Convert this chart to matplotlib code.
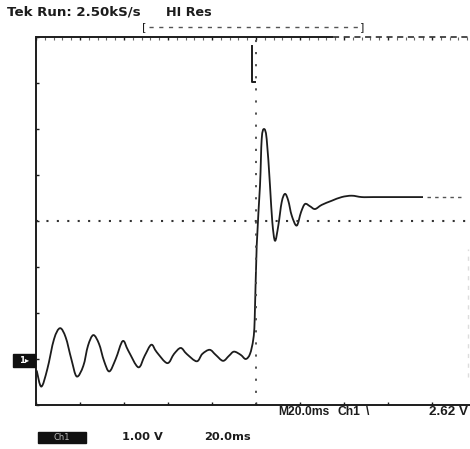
import numpy as np
import matplotlib
matplotlib.use("Agg")
import matplotlib.pyplot as plt
from matplotlib.patches import Rectangle, PathPatch
from matplotlib.path import Path

# Acquired trace: time in ms from the left edge of the screen, volts above ground
time_ms = [0.32, 2.41, 5.14, 8.18, 10.91, 13.50, 16.05, 18.50, 21.50, 23.64,
           26.05, 28.64, 30.91, 33.32, 36.23, 39.41, 41.95, 46.50, 49.41, 52.41,
           54.86, 59.68, 62.73, 65.77, 68.50, 73.05, 75.59, 78.95, 81.68, 85.00,
           87.73, 90.00, 93.05, 95.32, 97.27, 98.77, 99.41, 100.32, 101.82, 102.59,
           103.64, 104.86, 106.36, 107.41, 108.64, 110.14, 111.68, 113.18, 114.68, 116.23,
           118.50, 120.45, 122.27, 124.55, 126.82, 129.86, 134.41, 138.95, 143.50, 148.05,
           153.32, 175.91]
volts = [-0.25, -0.60, -0.22, 0.43, 0.67, 0.47, 0.00, -0.38, -0.15, 0.29,
         0.52, 0.33, -0.04, -0.27, 0.00, 0.39, 0.18, -0.18, 0.07, 0.31,
         0.15, -0.09, 0.11, 0.24, 0.11, -0.05, 0.11, 0.20, 0.09, -0.04,
         0.07, 0.16, 0.09, 0.00, 0.11, 0.43, 0.87, 2.46, 3.77, 4.78,
         5.00, 4.78, 3.77, 2.98, 2.57, 2.90, 3.41, 3.59, 3.44, 3.12,
         2.90, 3.19, 3.37, 3.32, 3.26, 3.35, 3.44, 3.52, 3.55, 3.52,
         3.52, 3.52]

# Screen settings
x_div_ms = 20.0          # horizontal scale, ms per division
y_div_v = 1.00           # vertical scale, V per division
n_xdiv, n_ydiv = 10, 8
ground_div = 1           # ground reference, divisions above the bottom edge
trigger_ms = 98.2        # trigger position marker

header = "Tek Run: 2.50kS/s"
mode = "HI Res"
status = ["M20.0ms", "Ch1", "\\", "2.62 V"]
footer = ["Ch1", "1.00 V", "20.0ms"]


def smooth_path(xs, ys):
    """Catmull-Rom curve through the samples, expressed as cubic Bezier pieces."""
    pts = np.column_stack([xs, ys]).astype(float)
    ext = np.vstack([pts[0], pts, pts[-1]])
    verts = [pts[0]]
    codes = [Path.MOVETO]
    for i in range(1, len(ext) - 2):
        p0, p1, p2, p3 = ext[i - 1], ext[i], ext[i + 1], ext[i + 2]
        verts += [p1 + (p2 - p0) / 6, p2 - (p3 - p1) / 6, p2]
        codes += [Path.CURVE4] * 3
    return Path(verts, codes)


W, H = 470, 449
fig = plt.figure(figsize=(W / 100, H / 100), dpi=100)
fig.patch.set_facecolor("white")

ink = "#1c1c1c"
ax = fig.add_axes([36 / W, (H - 405) / H, 440 / W, 368 / H])
ax.set_xlim(0, n_xdiv * x_div_ms)
ax.set_ylim(-ground_div * y_div_v, (n_ydiv - ground_div) * y_div_v)
ax.set_facecolor("white")

for side in ("right", "top"):
    ax.spines[side].set_visible(False)
for side in ("left", "bottom"):
    ax.spines[side].set_color(ink)
    ax.spines[side].set_linewidth(1.4)

ax.set_xticks(np.arange(0, n_xdiv * x_div_ms + 1, x_div_ms))
ax.set_yticks(np.arange(-1, 7.01, y_div_v))
ax.tick_params(axis="both", which="major", direction="in", length=2,
               width=1.0, color=ink, labelbottom=False, labelleft=False,
               top=True)
ax.set_xticks(np.arange(0, 200, 4), minor=True)
ax.tick_params(axis="x", which="minor", direction="in", length=2,
               width=0.8, color="#666666", top=True, bottom=False)

# top edge of the graticule: solid at left, dashed further right
ax.plot([0, 135], [7, 7], color=ink, lw=1.4, clip_on=False,
        solid_capstyle="butt")
ax.plot([135, 200], [7, 7], color=ink, lw=1.1, clip_on=False,
        linestyle=(0, (4, 3)))

# centre graticule lines
ax.axhline(3, color="#333333", lw=1.5, linestyle=(0, (1.0, 4.0)))
ax.axvline(100, color="#444444", lw=1.3, linestyle=(0, (1.2, 5.5)))

# trigger position marker
ax.plot([trigger_ms, trigger_ms, trigger_ms + 1.3], [6.8, 6.02, 6.02],
        color=ink, lw=1.4)

# faint right-hand graticule
ax.plot([196.5, 196.5], [-0.4, 2.4], color="#dddddd", lw=1.0,
        linestyle=(0, (3, 4)))

# waveform
ax.add_patch(PathPatch(smooth_path(time_ms, volts), facecolor="none",
                       edgecolor=ink, lw=1.3, joinstyle="round"))
ax.plot([time_ms[-1] + 2, 193], [volts[-1], volts[-1]], color="#555555",
        lw=1.0, linestyle=(0, (2.5, 3)))

font = dict(family="DejaVu Sans", weight="bold", color=ink)
narrow = dict(family=["Liberation Sans", "DejaVu Sans"],
              weight="bold", color=ink)


def fx(px):
    return px / W


def fy(py):
    return 1 - py / H


fig.text(fx(7), fy(12), header, fontsize=9.6, va="center", ha="left", **font)
fig.text(fx(166), fy(12), mode, fontsize=9.2, va="center", ha="left", **font)

# record window bracket
fig.text(fx(142), fy(27), "[", fontsize=8, va="center", ha="left",
         color=ink)
fig.text(fx(364), fy(27), "]", fontsize=8, va="center", ha="right",
         color=ink)
fig.add_artist(plt.Line2D([fx(149), fx(358)], [fy(27), fy(27)],
                          color="#555555", lw=1.0, linestyle=(0, (3, 4))))

# channel 1 ground marker
fig.add_artist(Rectangle((fx(13), fy(367)), 22 / W, 13 / H, color="#111111"))
fig.text(fx(24), fy(360.5), "1\u25b8", fontsize=6, color="white",
         ha="center", va="center", weight="bold")

# status line below the screen
fig.text(fx(278), fy(412), status[0], fontsize=8.7, va="center", ha="left",
         **narrow)
fig.text(fx(338), fy(412), status[1], fontsize=8.7, va="center", ha="left",
         **narrow)
fig.text(fx(366), fy(412), status[2], fontsize=8.7, va="center", ha="left",
         **narrow)
fig.text(fx(468), fy(412), status[3], fontsize=9.6, va="center", ha="right",
         **narrow)

# channel readout
fig.add_artist(Rectangle((fx(38), fy(443)), 48 / W, 11 / H, color="#111111"))
fig.text(fx(62), fy(437.5), footer[0], fontsize=6, color="#bbbbbb",
         ha="center", va="center")
fig.text(fx(122), fy(437.5), footer[1], fontsize=8.2, va="center",
         ha="left", **font)
fig.text(fx(204), fy(437.5), footer[2], fontsize=8.2, va="center",
         ha="left", **font)

fig.savefig("out.png", dpi=100, facecolor="white")
